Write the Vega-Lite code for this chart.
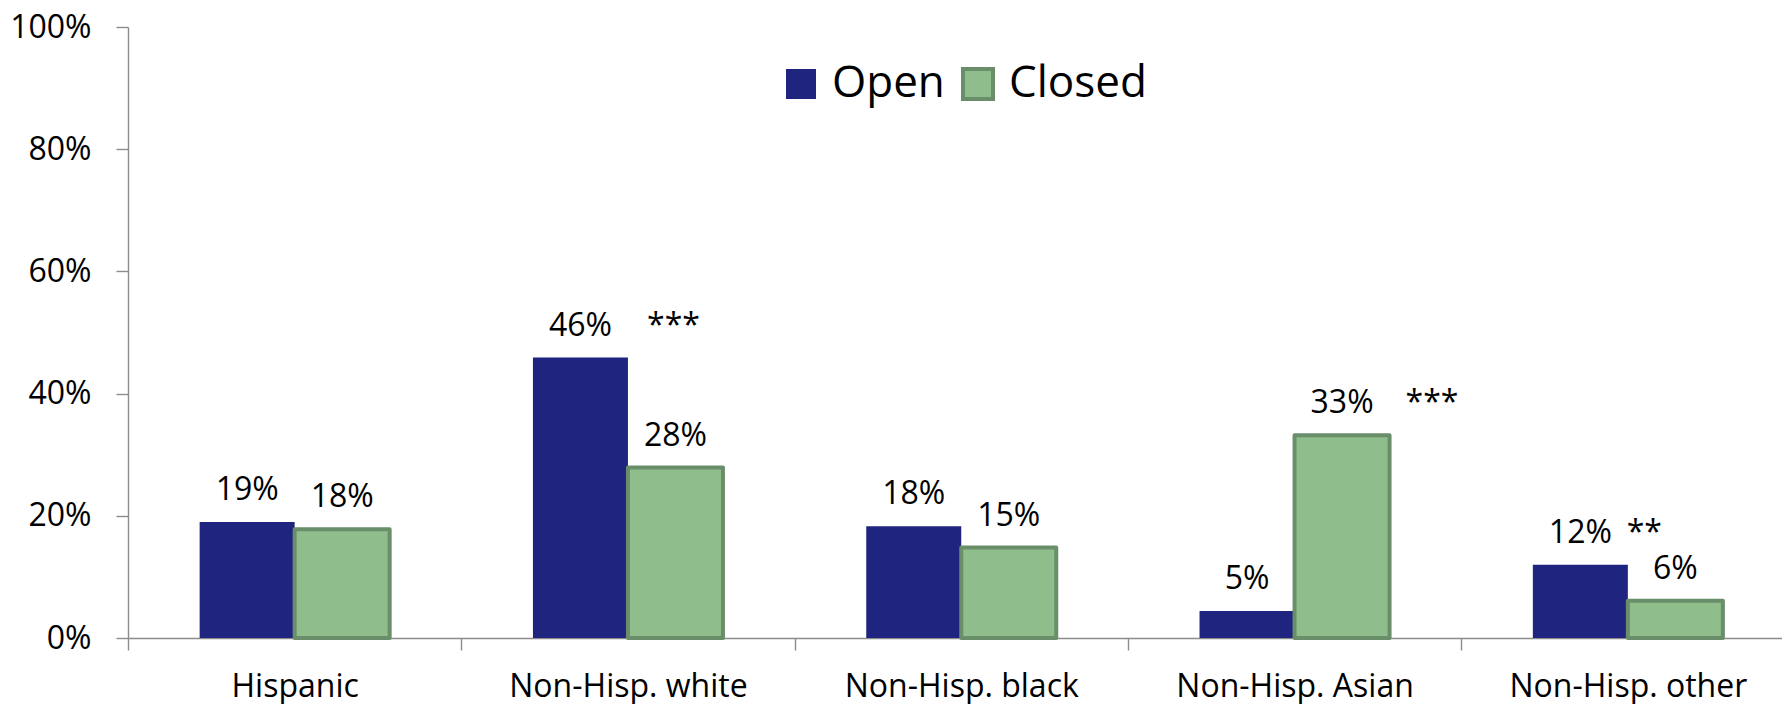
{
  "$schema": "https://vega.github.io/schema/vega-lite/v6.json",
  "autosize": "none",
  "width": 1654,
  "height": 611,
  "padding": {"left": 128, "top": 27, "right": 0, "bottom": 66},
  "background": "white",
  "config": {
    "view": {"stroke": null},
    "font": "Open Sans",
    "axis": {"labelFont": "Open Sans", "labelColor": "#000000", "domainColor": "#8c8c8c", "tickColor": "#8c8c8c", "domainWidth": 1.4, "tickWidth": 1.4, "grid": false, "title": null}
  },
  "data": {
    "values": [
      {"category": "Hispanic", "series": "Open", "value": 19.0, "label": "19%", "sig": ""},
      {"category": "Hispanic", "series": "Closed", "value": 17.8, "label": "18%", "sig": ""},
      {"category": "Non-Hisp. white", "series": "Open", "value": 45.9, "label": "46%", "sig": ""},
      {"category": "Non-Hisp. white", "series": "Closed", "value": 27.9, "label": "28%", "sig": "***"},
      {"category": "Non-Hisp. black", "series": "Open", "value": 18.3, "label": "18%", "sig": ""},
      {"category": "Non-Hisp. black", "series": "Closed", "value": 14.8, "label": "15%", "sig": ""},
      {"category": "Non-Hisp. Asian", "series": "Open", "value": 4.4, "label": "5%", "sig": ""},
      {"category": "Non-Hisp. Asian", "series": "Closed", "value": 33.2, "label": "33%", "sig": "***"},
      {"category": "Non-Hisp. other", "series": "Open", "value": 12.0, "label": "12%", "sig": ""},
      {"category": "Non-Hisp. other", "series": "Closed", "value": 6.1, "label": "6%", "sig": "**"}
    ]
  },
  "encoding": {
    "x": {
      "field": "category", "type": "nominal",
      "scale": {"domain": ["Hispanic", "Non-Hisp. white", "Non-Hisp. black", "Non-Hisp. Asian", "Non-Hisp. other"], "range": [0, 1666.5], "paddingInner": 0, "paddingOuter": 0},
      "axis": {"labelAngle": 0, "tickBand": "extent", "tickSize": 12, "labelFontSize": 32, "labelBaseline": "alphabetic", "labelPadding": 46.5, "labelLimit": 400}
    },
    "xOffset": {"field": "series", "type": "nominal", "scale": {"domain": ["Open", "Closed"], "paddingInner": 0, "paddingOuter": 0.754}},
    "y": {
      "field": "value", "type": "quantitative",
      "scale": {"domain": [0, 100], "nice": false},
      "axis": {"values": [0, 20, 40, 60, 80, 100], "labelExpr": "datum.value + '%'", "tickSize": 12, "labelFontSize": 32, "labelPadding": 25, "labelBaseline": "middle"}
    }
  },
  "layer": [
    {
      "mark": {"type": "bar", "strokeWidth": 4, "strokeJoin": "round"},
      "encoding": {
        "fill": {"field": "series", "type": "nominal", "scale": {"domain": ["Open", "Closed"], "range": ["#1F247F", "#8FBE8C"]},
          "legend": {"orient": "none", "direction": "horizontal", "legendX": 651, "legendY": 35, "title": null, "symbolType": "square", "symbolSize": 900, "symbolStrokeWidth": 4, "labelFontSize": 44, "labelFont": "Open Sans", "labelColor": "#000000", "labelOffset": 9, "columnPadding": 10, "labelLimit": 400, "padding": 0, "symbolOpacity": 1}},
        "stroke": {"field": "series", "type": "nominal", "scale": {"domain": ["Open", "Closed"], "range": ["rgba(0,0,0,0)", "#6A8E6A"]}, "legend": null}
      }
    },
    {
      "mark": {"type": "text", "fontSize": 32, "dy": -22, "baseline": "alphabetic", "align": "center", "color": "#000000"},
      "encoding": {"text": {"field": "label"}}
    },
    {
      "transform": [{"filter": "datum.category == 'Non-Hisp. white'"}, {"joinaggregate": [{"op": "max", "field": "value", "as": "top"}], "groupby": ["category"]}, {"filter": "datum.series == 'Closed'"}],
      "mark": {"type": "text", "fontSize": 32, "dy": -22, "dx": -2, "baseline": "alphabetic", "align": "center", "color": "#000000"},
      "encoding": {"y": {"field": "top", "type": "quantitative"}, "text": {"field": "sig"}}
    },
    {
      "transform": [{"filter": "datum.category == 'Non-Hisp. Asian'"}, {"joinaggregate": [{"op": "max", "field": "value", "as": "top"}], "groupby": ["category"]}, {"filter": "datum.series == 'Closed'"}],
      "mark": {"type": "text", "fontSize": 32, "dy": -22, "dx": 90, "baseline": "alphabetic", "align": "center", "color": "#000000"},
      "encoding": {"y": {"field": "top", "type": "quantitative"}, "text": {"field": "sig"}}
    },
    {
      "transform": [{"filter": "datum.category == 'Non-Hisp. other'"}, {"joinaggregate": [{"op": "max", "field": "value", "as": "top"}], "groupby": ["category"]}, {"filter": "datum.series == 'Closed'"}],
      "mark": {"type": "text", "fontSize": 32, "dy": -22, "dx": -31, "baseline": "alphabetic", "align": "center", "color": "#000000"},
      "encoding": {"y": {"field": "top", "type": "quantitative"}, "text": {"field": "sig"}}
    }
  ]
}
